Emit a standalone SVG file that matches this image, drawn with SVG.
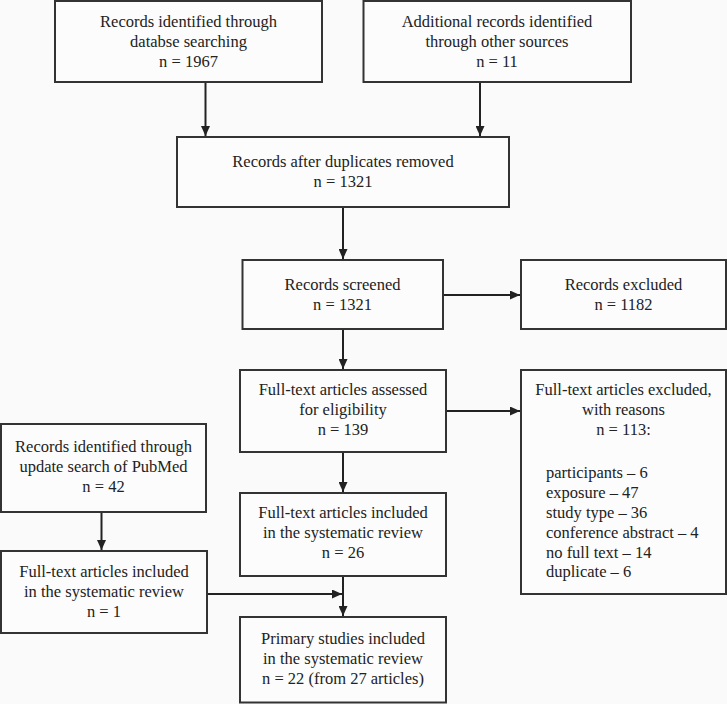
<svg xmlns="http://www.w3.org/2000/svg" width="727" height="704" viewBox="0 0 727 704">
<style>
.box{fill:#fcfcfc;stroke:#333;stroke-width:2}
.t{font-family:'Liberation Serif','Times New Roman',serif;font-size:16.5px;fill:#222;text-anchor:middle}
.l{font-family:'Liberation Serif','Times New Roman',serif;font-size:16.5px;fill:#222;text-anchor:start}
.c{fill:none;stroke:#222;stroke-width:2;marker-end:url(#ah)}
</style>
<defs>
<marker id="ah" markerUnits="userSpaceOnUse" markerWidth="10" markerHeight="9" viewBox="0 0 10 9" refX="10" refY="4.5" orient="auto">
<path d="M0,0 L10,4.5 L0,9 Z" fill="#222"/>
</marker>
</defs>
<rect x="0" y="0" width="727" height="704" fill="#fafafa"/>
<g id="connectors">
<line class="c" x1="205.5" y1="82" x2="205.5" y2="136"/>
<line class="c" x1="480" y1="82" x2="480" y2="136"/>
<line class="c" x1="343" y1="207" x2="343" y2="259"/>
<line class="c" x1="443" y1="295" x2="520" y2="295"/>
<line class="c" x1="343" y1="329" x2="343" y2="369"/>
<line class="c" x1="446" y1="411" x2="520" y2="411"/>
<line class="c" x1="343" y1="452" x2="343" y2="492"/>
<line class="c" x1="343" y1="576" x2="343" y2="616"/>
<line class="c" x1="101.5" y1="512" x2="101.5" y2="550"/>
<line class="c" x1="207" y1="594" x2="342" y2="594"/>
</g>
<g id="n1"><rect class="box" x="55" y="1" width="267" height="81"/>
<text class="t" x="188.5" y="27">Records identified through</text>
<text class="t" x="188.5" y="47">databse searching</text>
<text class="t" x="188.5" y="66.5">n = 1967</text></g>
<g id="n2"><rect class="box" x="363.5" y="1" width="267.5" height="81"/>
<text class="t" x="497" y="27">Additional records identified</text>
<text class="t" x="497" y="47">through other sources</text>
<text class="t" x="497" y="66.5">n = 11</text></g>
<g id="n3"><rect class="box" x="177" y="137" width="332" height="70"/>
<text class="t" x="343" y="167">Records after duplicates removed</text>
<text class="t" x="343" y="186.5">n = 1321</text></g>
<g id="n4"><rect class="box" x="242.5" y="260" width="200.5" height="69"/>
<text class="t" x="342.5" y="290">Records screened</text>
<text class="t" x="342.5" y="310">n = 1321</text></g>
<g id="n5"><rect class="box" x="521" y="260" width="205" height="69"/>
<text class="t" x="623.5" y="290">Records excluded</text>
<text class="t" x="623.5" y="310">n = 1182</text></g>
<g id="n6"><rect class="box" x="240" y="370" width="206" height="82"/>
<text class="t" x="343" y="395">Full-text articles assessed</text>
<text class="t" x="343" y="415">for eligibility</text>
<text class="t" x="343" y="434.5">n = 139</text></g>
<g id="n7"><rect class="box" x="521" y="370" width="205" height="224"/>
<text class="t" x="623.5" y="395">Full-text articles excluded,</text>
<text class="t" x="623.5" y="415">with reasons</text>
<text class="t" x="623.5" y="434.5">n = 113:</text>
<text class="l" x="546" y="478">participants – 6</text>
<text class="l" x="546" y="498">exposure – 47</text>
<text class="l" x="546" y="518">study type – 36</text>
<text class="l" x="546" y="537.5">conference abstract – 4</text>
<text class="l" x="546" y="557.5">no full text – 14</text>
<text class="l" x="546" y="577">duplicate – 6</text></g>
<g id="n8"><rect class="box" x="1" y="424" width="205" height="88"/>
<text class="t" x="103.5" y="452">Records identified through</text>
<text class="t" x="103.5" y="472">update search of PubMed</text>
<text class="t" x="103.5" y="491.5">n = 42</text></g>
<g id="n9"><rect class="box" x="1" y="551" width="206" height="82"/>
<text class="t" x="104" y="577">Full-text articles included</text>
<text class="t" x="104" y="597">in the systematic review</text>
<text class="t" x="104" y="617">n = 1</text></g>
<g id="n10"><rect class="box" x="240" y="493" width="206" height="83"/>
<text class="t" x="343" y="518">Full-text articles included</text>
<text class="t" x="343" y="538">in the systematic review</text>
<text class="t" x="343" y="557.5">n = 26</text></g>
<g id="n11"><rect class="box" x="240" y="617" width="206" height="85.5"/>
<text class="t" x="343" y="644">Primary studies included</text>
<text class="t" x="343" y="664">in the systematic review</text>
<text class="t" x="343" y="684">n = 22 (from 27 articles)</text></g>
</svg>
